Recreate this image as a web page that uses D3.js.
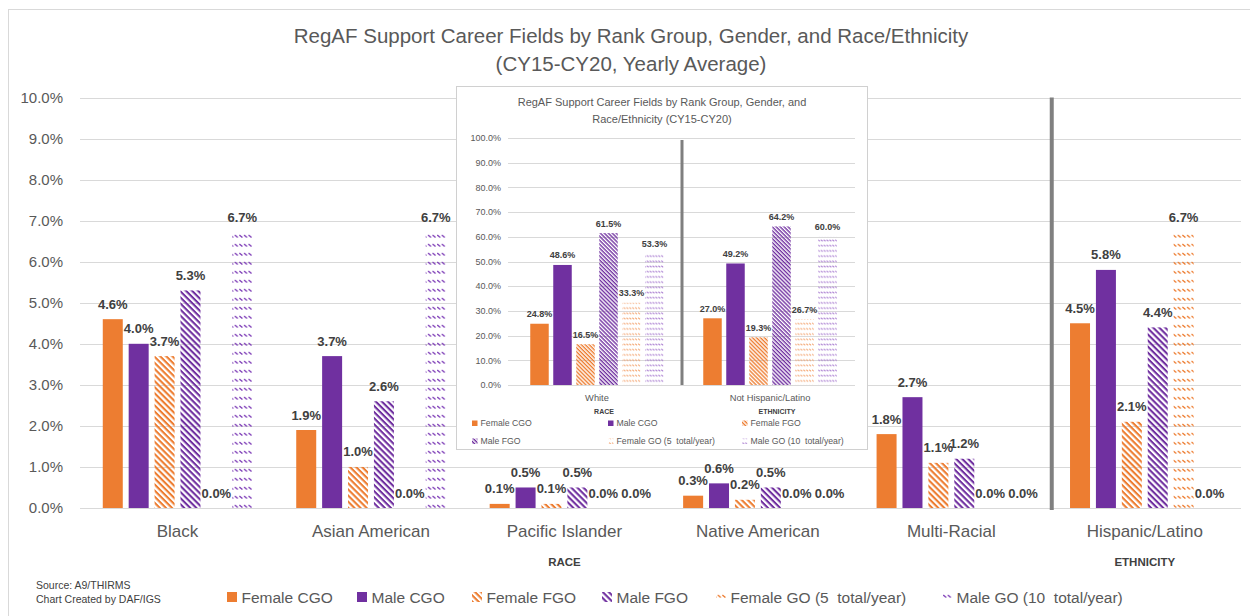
<!DOCTYPE html>
<html>
<head>
<meta charset="utf-8">
<script src="https://cdn.jsdelivr.net/npm/d3@7"></script>
<style>
  body { margin: 0; background: #fff; }
  text { font-family: "Liberation Sans", Arial, sans-serif; }
</style>
</head>
<body>
<div id="container"></div>
<script>
// main chart data (percent)
const categories = ['Black', 'Asian American', 'Pacific Islander', 'Native American', 'Multi-Racial', 'Hispanic/Latino']
const groups = ['RACE', 'RACE', 'RACE', 'RACE', 'RACE', 'ETHNICITY']
const series = ['Female CGO', 'Male CGO', 'Female FGO', 'Male FGO', 'Female GO (5  total/year)', 'Male GO (10  total/year)']
const femaleCGO = [4.6, 1.9, 0.1, 0.3, 1.8, 4.5]
const maleCGO = [4.0, 3.7, 0.5, 0.6, 2.7, 5.8]
const femaleFGO = [3.7, 1.0, 0.1, 0.2, 1.1, 2.1]
const maleFGO = [5.3, 2.6, 0.5, 0.5, 1.2, 4.4]
const femaleGO = [0.0, 0.0, 0.0, 0.0, 0.0, 6.7]
const maleGO = [6.7, 6.7, 0.0, 0.0, 0.0, 0.0]
const yTicks = [0, 1, 2, 3, 4, 5, 6, 7, 8, 9, 10]

// inset chart data (percent)
const insetCategories = ['White', 'Not Hispanic/Latino']
const insetGroups = ['RACE', 'ETHNICITY']
const insetFemaleCGO = [24.8, 27.0]
const insetMaleCGO = [48.6, 49.2]
const insetFemaleFGO = [16.5, 19.3]
const insetMaleFGO = [61.5, 64.2]
const insetFemaleGO = [33.3, 26.7]
const insetMaleGO = [53.3, 60.0]
const insetTicks = [0, 10, 20, 30, 40, 50, 60, 70, 80, 90, 100]

const mainValues = [femaleCGO, maleCGO, femaleFGO, maleFGO, femaleGO, maleGO]
const insetValues = [insetFemaleCGO, insetMaleCGO, insetFemaleFGO, insetMaleFGO, insetFemaleGO, insetMaleGO]

const ORANGE = '#ED7D31'
const PURPLE = '#7030A0'
const fmt = v => d3.format('.1f')(v) + '%'

const width = 1250
const height = 616

const svg = d3.select('#container')
  .append('svg')
  .attr('width', width)
  .attr('height', height)
  .attr('viewBox', [0, 0, width, height])

const defs = svg.append('defs')

function stripe(id, color, p, sw) {
  const pat = defs.append('pattern')
    .attr('id', id)
    .attr('patternUnits', 'userSpaceOnUse')
    .attr('width', p)
    .attr('height', p)
    .attr('patternTransform', 'rotate(45)')
  pat.append('rect').attr('width', p).attr('height', sw).attr('fill', color)
}

function dashes(id, color, w, h, sw) {
  const pat = defs.append('pattern')
    .attr('id', id)
    .attr('patternUnits', 'userSpaceOnUse')
    .attr('width', w)
    .attr('height', h)
  pat.append('path')
    .attr('d', `M${w * 0.05},${h * 0.12} L${w * 0.7},${h * 0.4}`)
    .attr('stroke', color)
    .attr('stroke-width', sw)
    .attr('fill', 'none')
}

stripe('stripeO', ORANGE, 4.3, 2.1)
stripe('stripeP', PURPLE, 4.3, 2.1)
dashes('goO', ORANGE, 4.6, 9, 1.3)
dashes('goP', '#8040b8', 4.6, 9, 1.3)
stripe('stripeOs', ORANGE, 2.8, 1.4)
stripe('stripePs', PURPLE, 2.8, 1.4)
dashes('goOs', '#f29a60', 2.9, 5.2, 0.9)
dashes('goPs', '#9a66c8', 2.9, 5.2, 0.9)

const mainFills = [ORANGE, PURPLE, 'url(#stripeO)', 'url(#stripeP)', 'url(#goO)', 'url(#goP)']
const insetFills = [ORANGE, PURPLE, 'url(#stripeOs)', 'url(#stripePs)', 'url(#goOs)', 'url(#goPs)']

// outer frame
svg.append('rect')
  .attr('x', 8.5).attr('y', 9.5)
  .attr('width', 1300).attr('height', 700)
  .attr('fill', 'none')
  .attr('stroke', '#d9d9d9')

// ---------- main chart ----------
const x0 = d3.scaleBand(categories, [80.8, 1241.5])
const groupW = 149.5
const x1 = d3.scaleBand(series, [0, groupW]).paddingInner(0.228)
const y = d3.scaleLinear([0, 10], [508, 97.5])

svg.append('g')
  .selectAll('line')
  .data(yTicks)
  .join('line')
  .attr('x1', 80).attr('x2', 1241)
  .attr('y1', d => Math.round(y(d)) + 0.5)
  .attr('y2', d => Math.round(y(d)) + 0.5)
  .attr('stroke', '#d9d9d9')

svg.append('g')
  .selectAll('text')
  .data(yTicks)
  .join('text')
  .attr('x', 63)
  .attr('y', d => y(d) + 5)
  .attr('text-anchor', 'end')
  .style('font-size', '15px')
  .style('fill', '#595959')
  .text(d => fmt(d))

const mainRows = categories.flatMap((c, ci) =>
  series.map((s, si) => ({
    cat: c, s, si,
    value: mainValues[si][ci],
    // nudge a zero label right when the label before it is also zero
    nudge: si > 0 && mainValues[si][ci] === 0 && mainValues[si - 1][ci] === 0 ? 7 : 0
  })))

const mainBars = svg.append('g')
mainBars.selectAll('rect')
  .data(mainRows.filter(d => d.value > 0))
  .join('rect')
  .attr('x', d => x0(d.cat) + (x0.bandwidth() - groupW) / 2 + x1(d.s))
  .attr('width', x1.bandwidth())
  .attr('y', d => y(d.value))
  .attr('height', d => y(0) - y(d.value))
  .attr('fill', d => mainFills[d.si])

mainBars.selectAll('text')
  .data(mainRows)
  .join('text')
  .attr('x', d => x0(d.cat) + (x0.bandwidth() - groupW) / 2 + x1(d.s) + x1.bandwidth() / 2 + d.nudge)
  .attr('y', d => y(d.value) - 10.5)
  .attr('text-anchor', 'middle')
  .style('font-size', '13px')
  .style('font-weight', 'bold')
  .style('fill', '#404040')
  .text(d => fmt(d.value))

// divider between race and ethnicity
svg.append('line')
  .attr('x1', x0('Hispanic/Latino') + 3.7).attr('x2', x0('Hispanic/Latino') + 3.7)
  .attr('y1', y(10)).attr('y2', y(0) + 2)
  .attr('stroke', '#808080')
  .attr('stroke-width', 4)

svg.append('g')
  .selectAll('text')
  .data(categories)
  .join('text')
  .attr('x', d => x0(d) + x0.bandwidth() / 2)
  .attr('y', 537)
  .attr('text-anchor', 'middle')
  .style('font-size', '17px')
  .style('fill', '#595959')
  .text(d => d)

const groupNames = Array.from(new Set(groups))
svg.append('g')
  .selectAll('text')
  .data(groupNames)
  .join('text')
  .attr('x', g => {
    const cs = categories.filter((c, i) => groups[i] === g)
    return (x0(cs[0]) + x0(cs[cs.length - 1]) + x0.bandwidth()) / 2
  })
  .attr('y', 566)
  .attr('text-anchor', 'middle')
  .style('font-size', '11.5px')
  .style('font-weight', 'bold')
  .style('fill', '#404040')
  .text(d => d)

// title
svg.append('text')
  .attr('text-anchor', 'middle')
  .style('font-size', '20.5px')
  .style('fill', '#595959')
  .selectAll('tspan')
  .data(['RegAF Support Career Fields by Rank Group, Gender, and Race/Ethnicity', '(CY15-CY20, Yearly Average)'])
  .join('tspan')
  .attr('x', 631)
  .attr('y', (d, i) => 43 + i * 28)
  .text(d => d)

// source
svg.append('text')
  .style('font-size', '10.5px')
  .style('fill', '#404040')
  .selectAll('tspan')
  .data(['Source: A9/THIRMS', 'Chart Created by DAF/IGS'])
  .join('tspan')
  .attr('x', 36)
  .attr('y', (d, i) => 589 + i * 14)
  .text(d => d)

// main legend
const legendX = [227, 357, 472, 602, 716, 942]
const legend = svg.append('g')
series.forEach((s, i) => {
  legend.append('rect')
    .attr('x', legendX[i]).attr('y', 592)
    .attr('width', 10).attr('height', 10)
    .attr('fill', mainFills[i])
  legend.append('text')
    .attr('x', legendX[i] + 14.5).attr('y', 602.5)
    .style('font-size', '15.5px')
    .style('fill', '#595959')
    .style('white-space', 'pre')
    .text(s)
})

// ---------- inset chart ----------
const inset = svg.append('g')
inset.append('rect')
  .attr('x', 456.5).attr('y', 86.5)
  .attr('width', 411).attr('height', 363)
  .attr('fill', '#fff')
  .attr('stroke', '#d0d0d0')

inset.append('text')
  .attr('text-anchor', 'middle')
  .style('font-size', '11px')
  .style('fill', '#595959')
  .selectAll('tspan')
  .data(['RegAF Support Career Fields by Rank Group, Gender, and', 'Race/Ethnicity (CY15-CY20)'])
  .join('tspan')
  .attr('x', 662)
  .attr('y', (d, i) => 106 + i * 17)
  .text(d => d)

const ix0 = d3.scaleBand(insetCategories, [510.5, 856.5])
const iGroupW = 133.5
const ix1 = d3.scaleBand(series, [0, iGroupW]).paddingInner(0.196)
const iy = d3.scaleLinear([0, 100], [385, 138])

inset.append('g')
  .selectAll('line')
  .data(insetTicks)
  .join('line')
  .attr('x1', 508).attr('x2', 855)
  .attr('y1', d => Math.round(iy(d)) + 0.5)
  .attr('y2', d => Math.round(iy(d)) + 0.5)
  .attr('stroke', '#d9d9d9')

inset.append('g')
  .selectAll('text')
  .data(insetTicks)
  .join('text')
  .attr('x', 501)
  .attr('y', d => iy(d) + 3.2)
  .attr('text-anchor', 'end')
  .style('font-size', '9px')
  .style('fill', '#595959')
  .text(d => fmt(d))

const insetRows = insetCategories.flatMap((c, ci) =>
  series.map((s, si) => ({ cat: c, s, si, value: insetValues[si][ci] })))

inset.append('g')
  .selectAll('rect')
  .data(insetRows)
  .join('rect')
  .attr('x', d => ix0(d.cat) + (ix0.bandwidth() - iGroupW) / 2 + ix1(d.s))
  .attr('width', ix1.bandwidth())
  .attr('y', d => iy(d.value))
  .attr('height', d => iy(0) - iy(d.value))
  .attr('fill', d => insetFills[d.si])

inset.append('g')
  .selectAll('text')
  .data(insetRows)
  .join('text')
  .attr('x', d => ix0(d.cat) + (ix0.bandwidth() - iGroupW) / 2 + ix1(d.s) + ix1.bandwidth() / 2)
  .attr('y', d => iy(d.value) - 6.5)
  .attr('text-anchor', 'middle')
  .style('font-size', '9px')
  .style('font-weight', 'bold')
  .style('fill', '#404040')
  .text(d => fmt(d.value))

inset.append('line')
  .attr('x1', 682).attr('x2', 682)
  .attr('y1', 140).attr('y2', iy(0))
  .attr('stroke', '#7f7f7f')
  .attr('stroke-width', 3)

inset.append('g')
  .selectAll('text')
  .data(insetCategories)
  .join('text')
  .attr('x', d => ix0(d) + ix0.bandwidth() / 2)
  .attr('y', 401)
  .attr('text-anchor', 'middle')
  .style('font-size', '9.3px')
  .style('fill', '#595959')
  .text(d => d)

inset.append('g')
  .selectAll('text')
  .data(insetGroups)
  .join('text')
  .attr('x', (d, i) => ix0(insetCategories[i]) + ix0.bandwidth() / 2 + 7)
  .attr('y', 414)
  .attr('text-anchor', 'middle')
  .style('font-size', '7px')
  .style('font-weight', 'bold')
  .style('fill', '#404040')
  .text(d => d)

const iLegendCols = [472, 608, 742]
const iLegendRows = [423, 441]
series.forEach((s, i) => {
  const cx = iLegendCols[i % 3]
  const cy = iLegendRows[Math.floor(i / 3)]
  inset.append('rect')
    .attr('x', cx).attr('y', cy - 2.5)
    .attr('width', 5.5).attr('height', 5.5)
    .attr('fill', insetFills[i])
  inset.append('text')
    .attr('x', cx + 8.5).attr('y', cy + 3)
    .style('font-size', '8.7px')
    .style('fill', '#595959')
    .style('white-space', 'pre')
    .text(s)
})
</script>
</body>
</html>
